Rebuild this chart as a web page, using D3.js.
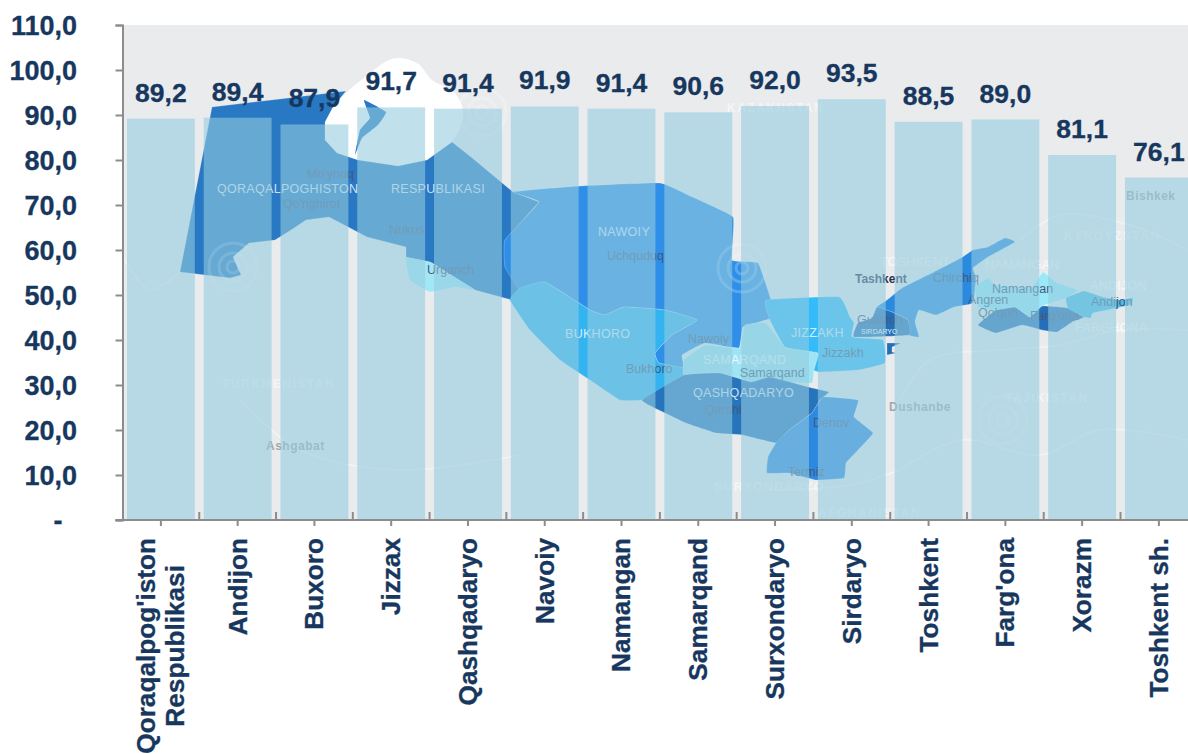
<!DOCTYPE html>
<html>
<head>
<meta charset="utf-8">
<script src="https://cdn.jsdelivr.net/npm/d3@7"></script>
<style>
  html, body { margin: 0; padding: 0; background: #fff; overflow: hidden; }
  svg { display: block; }
  text { font-family: "Liberation Sans", Arial, sans-serif; }
  .axis-label { font-weight: bold; fill: #17375e; stroke: #17375e; stroke-width: 0.3px; font-size: 26.5px; }
  .y-label { font-size: 27px; }
  .cat-label { font-size: 26.2px; }
  .place { font-size: 12.5px; fill: #44587c; }
  .region-name { font-size: 12.5px; fill: #fff; fill-opacity: 0.8; letter-spacing: 0.3px; }
  .country { font-size: 12px; font-weight: bold; fill: #fff; fill-opacity: 0.55; letter-spacing: 1.5px; }
  .capital { font-size: 12px; font-weight: bold; fill: #7f8a90; fill-opacity: 0.7; letter-spacing: 0.5px; }
</style>
</head>
<body>
<svg id="chart" width="1188" height="754"></svg>
<script>
// data
const categories = ["Qoraqalpog'iston\nRespublikasi", "Andijon", "Buxoro", "Jizzax", "Qashqadaryo", "Navoiy", "Namangan",
  "Samarqand", "Surxondaryo", "Sirdaryo", "Toshkent", "Farg'ona", "Xorazm", "Toshkent sh."];
const values = [89.2, 89.4, 87.9, 91.7, 91.4, 91.9, 91.4, 90.6, 92.0, 93.5, 88.5, 89.0, 81.1, 76.1];
const yTicks = [0, 10, 20, 30, 40, 50, 60, 70, 80, 90, 100, 110];

// background picture behind the bars (a map, no data in it), in page pixels
const mapRegions = [
  {fill: "#2878c4", sharp: true, pts: [[212,107],[280,99],[346,91],[333,107],[325,122],[325,140],[337,153],[358,160],[398,166],[427,160],[452,142],[471,157],[513,192],[539,202],[505,240],[505,267],[536,293],[512,300],[475,290],[432,263],[406,257],[406,247],[367,237],[350,228],[329,217],[306,220],[291,230],[275,240],[249,243],[233,257],[241,275],[230,278],[180,272]]},
  {fill: "#2f8fe8", pts: [[513,192],[580,186],[660,183],[690,196],[733,217],[732,260],[758,263],[770,297],[774,317],[743,327],[739,348],[705,343],[682,355],[684,368],[659,363],[655,353],[672,335],[697,320],[665,310],[624,307],[605,315],[590,310],[545,282],[520,290],[505,267],[505,240],[539,202]]},
  {fill: "#33b4f0", pts: [[520,288],[545,282],[590,310],[605,315],[624,307],[665,310],[697,320],[672,335],[655,353],[659,363],[684,368],[683,377],[670,390],[642,400],[620,400],[590,380],[560,360],[530,330],[510,300]]},
  {fill: "#a3e6f6", pts: [[406,258],[430,262],[445,272],[475,290],[455,287],[430,292],[410,280]]},
  {fill: "#9fe4f4", pts: [[684,360],[705,345],[739,348],[745,325],[766,323],[785,347],[818,353],[814,370],[812,383],[785,382],[770,377],[751,382],[720,373],[684,375]]},
  {fill: "#33bbfa", pts: [[766,300],[839,297],[850,317],[854,323],[852,337],[883,340],[885,363],[858,370],[820,372],[814,370],[818,353],[785,347],[770,320]]},
  {fill: "#2674bc", pts: [[642,400],[684,375],[720,373],[751,382],[770,377],[812,388],[829,392],[820,400],[812,413],[789,430],[776,443],[743,435],[716,433],[686,423],[663,412]]},
  {fill: "#2d88e0", pts: [[823,397],[858,400],[854,417],[873,433],[858,450],[846,463],[844,478],[816,480],[789,473],[767,473],[768,457],[776,443],[789,430],[812,413]]},
  {fill: "#2a8ae0", pts: [[887,300],[902,288],[934,272],[961,258],[973,250],[988,247],[1005,238],[1015,242],[988,257],[973,268],[976,278],[973,303],[954,307],[936,315],[919,310],[915,322],[919,337],[909,335],[908,320],[892,312],[877,307]]},
  {fill: "#2470b8", pts: [[877,307],[892,312],[908,320],[909,335],[854,337],[858,323],[872,318]]},
  {fill: "#2470b8", sharp: true, pts: [[887,343],[901,343],[892,347],[892,352],[896,353],[887,355]]},
  {fill: "#2470b8", pts: [[978,325],[996,310],[1015,307],[1030,317],[1042,306],[1068,308],[1084,317],[1072,322],[1057,332],[1042,330],[1022,325],[996,333]]},
  {fill: "#9be8f8", pts: [[975,287],[988,278],[996,285],[1032,287],[1043,272],[1057,283],[1078,290],[1066,298],[1042,306],[1030,317],[1015,307],[996,310],[978,307]]},
  {fill: "#4abce8", pts: [[1066,298],[1084,291],[1103,297],[1120,300],[1133,298],[1130,305],[1093,313],[1091,318],[1084,317],[1068,308]]}
];
const aralSea = [[325,120],[346,93],[364,78],[398,58],[417,63],[432,80],[455,93],[463,110],[452,142],[427,160],[398,166],[358,160],[337,153],[325,140]];
const aralIsland = [[364,100],[386,112],[378,125],[362,138],[355,155],[360,130],[370,118]];
const borderLines = [
  [[122,255],[150,290],[180,272]], [[240,400],[300,450],[400,470],[520,455]], [[900,470],[960,440],[1040,455],[1100,430],[1188,440]],
  [[900,400],[930,360],[1000,350],[1060,345],[1120,330],[1188,330]], [[1020,240],[1060,215],[1130,225],[1188,250]], [[770,490],[850,485],[900,470]]
];
const swirls = [[233,267], [742,268], [482,112], [1003,420]];
const placeNames = [
  ["Mo'ynoq",307,178], ["Qo'nghirot",283,208], ["Nukus",389,234], ["Urganch",427,274], ["Uchquduq",607,260], ["Nawoiy",688,343],
  ["Bukhoro",626,373], ["Samarqand",740,377], ["Qarshi",705,414], ["Denov",813,427], ["Termiz",788,476], ["Jizzakh",822,357],
  ["Guliston",857,324], ["Chirchiq",933,282], ["Angren",968,304], ["Namangan",992,293], ["Qo'qon",978,317], ["Farg'ona",1030,320], ["Andijon",1091,306]
];
const regionNames = [["QORAQALPOGHISTON",217,193], ["RESPUBLIKASI",391,193], ["NAWOIY",598,236], ["BUKHORO",565,338], ["JIZZAKH",791,337],
  ["SAMARQAND",703,364], ["QASHQADARYO",693,397], ["TOSHKENT",880,266], ["NAMANGAN",985,269], ["ANDIJON",1090,290], ["FARGHONA",1075,332]];
const countryNames = [["KAZAKHSTAN",727,112], ["KYRGYZSTAN",1064,240], ["TURKMENISTAN",222,388], ["TAJIKISTAN",1005,402], ["AFGHANISTAN",818,517],
  ["SURXONDARYO",714,491]];
const capitalNames = [["Ashgabat",266,450], ["Dushanbe",889,411], ["Bishkek",1126,200]];

const config = {
  margin: {top: 25, left: 122.5},
  plotHeight: 495,
  step: 76.77,
  barColour: "#94cbde",
  barOpacity: 0.585,
  axisColour: "#8c8c8c"
};

const svg = d3.select("#chart");
const baseline = config.margin.top + config.plotHeight;

const xScale = d3.scaleBand()
  .domain(categories)
  .range([config.margin.left, config.margin.left + config.step * categories.length])
  .paddingInner(0.116)
  .paddingOuter(0.058);

const yScale = d3.scaleLinear()
  .domain([0, 110])
  .range([baseline, config.margin.top]);

// plot background and map
svg.append("rect")
  .attr("x", config.margin.left).attr("y", config.margin.top)
  .attr("width", 1188 - config.margin.left).attr("height", config.plotHeight)
  .attr("fill", "#e9ebed");

const mapG = svg.append("g");
const sharpOutline = d3.line().curve(d3.curveLinearClosed);
const softOutline = d3.line().curve(d3.curveCardinalClosed.tension(0.7));

mapG.selectAll(".border").data(borderLines).enter().append("path")
  .attr("d", d3.line().curve(d3.curveCatmullRom))
  .attr("fill", "none").attr("stroke", "#fff").attr("stroke-opacity", 0.45).attr("stroke-width", 1.5);

mapG.append("path").attr("d", d3.line().curve(d3.curveCatmullRomClosed.alpha(1))(aralSea)).attr("fill", "#fff");

mapG.selectAll(".region").data(mapRegions).enter().append("path")
  .attr("class", "region")
  .attr("d", d => (d.sharp ? sharpOutline : softOutline)(d.pts))
  .attr("fill", d => d.fill)
  .attr("stroke", "#fff").attr("stroke-opacity", 0.25).attr("stroke-width", 0.8);

mapG.append("path").attr("d", softOutline(aralIsland)).attr("fill", "#2878c4");

swirls.forEach(c => {
  [6, 14, 24].forEach(r => {
    mapG.append("circle").attr("cx", c[0]).attr("cy", c[1]).attr("r", r)
      .attr("fill", "none").attr("stroke", "#fff").attr("stroke-opacity", 0.22).attr("stroke-width", 3);
  });
});

function nameLayer(list, cls) {
  mapG.selectAll("text." + cls).data(list).enter().append("text")
    .attr("class", cls)
    .attr("x", d => d[1]).attr("y", d => d[2])
    .text(d => d[0]);
}
nameLayer(countryNames, "country");
nameLayer(capitalNames, "capital");
nameLayer(regionNames, "region-name");
nameLayer(placeNames, "place");

mapG.append("text").attr("x", 855).attr("y", 283)
  .attr("font-size", 12).attr("font-weight", "bold").attr("fill", "#28324e").text("Tashkent");
mapG.append("text").attr("x", 861).attr("y", 334)
  .attr("font-size", 7).attr("fill", "#fff").text("SIRDARYO");

// bars
svg.selectAll(".bar").data(values).enter().append("rect")
  .attr("class", "bar")
  .attr("x", (d, i) => xScale(categories[i]))
  .attr("y", d => yScale(d))
  .attr("width", xScale.bandwidth())
  .attr("height", d => baseline - yScale(d))
  .attr("fill", config.barColour)
  .attr("fill-opacity", config.barOpacity);

// y axis
const yAxis = d3.axisLeft(yScale)
  .tickValues(yTicks)
  .tickSize(7)
  .tickPadding(38)
  .tickFormat(d => d === 0 ? "-" : d3.format(".1f")(d).replace(".", ","));

const yAxisG = svg.append("g")
  .attr("transform", `translate(${config.margin.left},0)`)
  .call(yAxis);
yAxisG.selectAll("text").attr("class", "axis-label y-label")
  .attr("x", d => d === 0 ? -60 : -45.5)
  .attr("dy", "0.34em");
yAxisG.selectAll("line, path").attr("stroke", config.axisColour).attr("stroke-width", 2);

// x axis
const xAxis = d3.axisBottom(xScale).tickSize(6).tickSizeOuter(0).tickFormat("");
const xAxisG = svg.append("g")
  .attr("transform", `translate(0,${baseline})`)
  .call(xAxis);
xAxisG.select(".domain").attr("d", `M${config.margin.left - 7},0H1188`);
xAxisG.selectAll("line, path").attr("stroke", config.axisColour).attr("stroke-width", 2);

// short inner ticks between the bars
xAxisG.selectAll(".edge").data(categories.slice(1)).enter().append("line")
  .attr("class", "edge")
  .attr("x1", d => xScale(d) - xScale.step() * 0.058).attr("x2", d => xScale(d) - xScale.step() * 0.058)
  .attr("y1", -8).attr("y2", 0)
  .attr("stroke", config.axisColour).attr("stroke-width", 2);

// category labels, rotated, split on newline
categories.forEach(cat => {
  const lines = cat.split("\n");
  const cx = xScale(cat) + xScale.bandwidth() / 2;
  const g = svg.append("g");
  const lineGap = 29;
  const texts = lines.map(line => g.append("text")
    .attr("class", "axis-label cat-label")
    .attr("text-anchor", "end")
    .attr("dy", "0.34em")
    .text(line));
  const widest = d3.max(texts, t => t.node().getComputedTextLength());
  texts.forEach((t, i) => {
    const off = (widest - t.node().getComputedTextLength()) / 2;
    t.attr("transform", `translate(${cx - (lines.length - 1) * lineGap / 2 + i * lineGap},${538 + off}) rotate(-90)`);
  });
});

// value labels
svg.selectAll(".value").data(values).enter().append("text")
  .attr("class", "axis-label value")
  .attr("text-anchor", "middle")
  .attr("x", (d, i) => xScale(categories[i]) + xScale.bandwidth() / 2)
  .attr("y", d => yScale(d) - 17)
  .text(d => d3.format(".1f")(d).replace(".", ","));
</script>
</body>
</html>
